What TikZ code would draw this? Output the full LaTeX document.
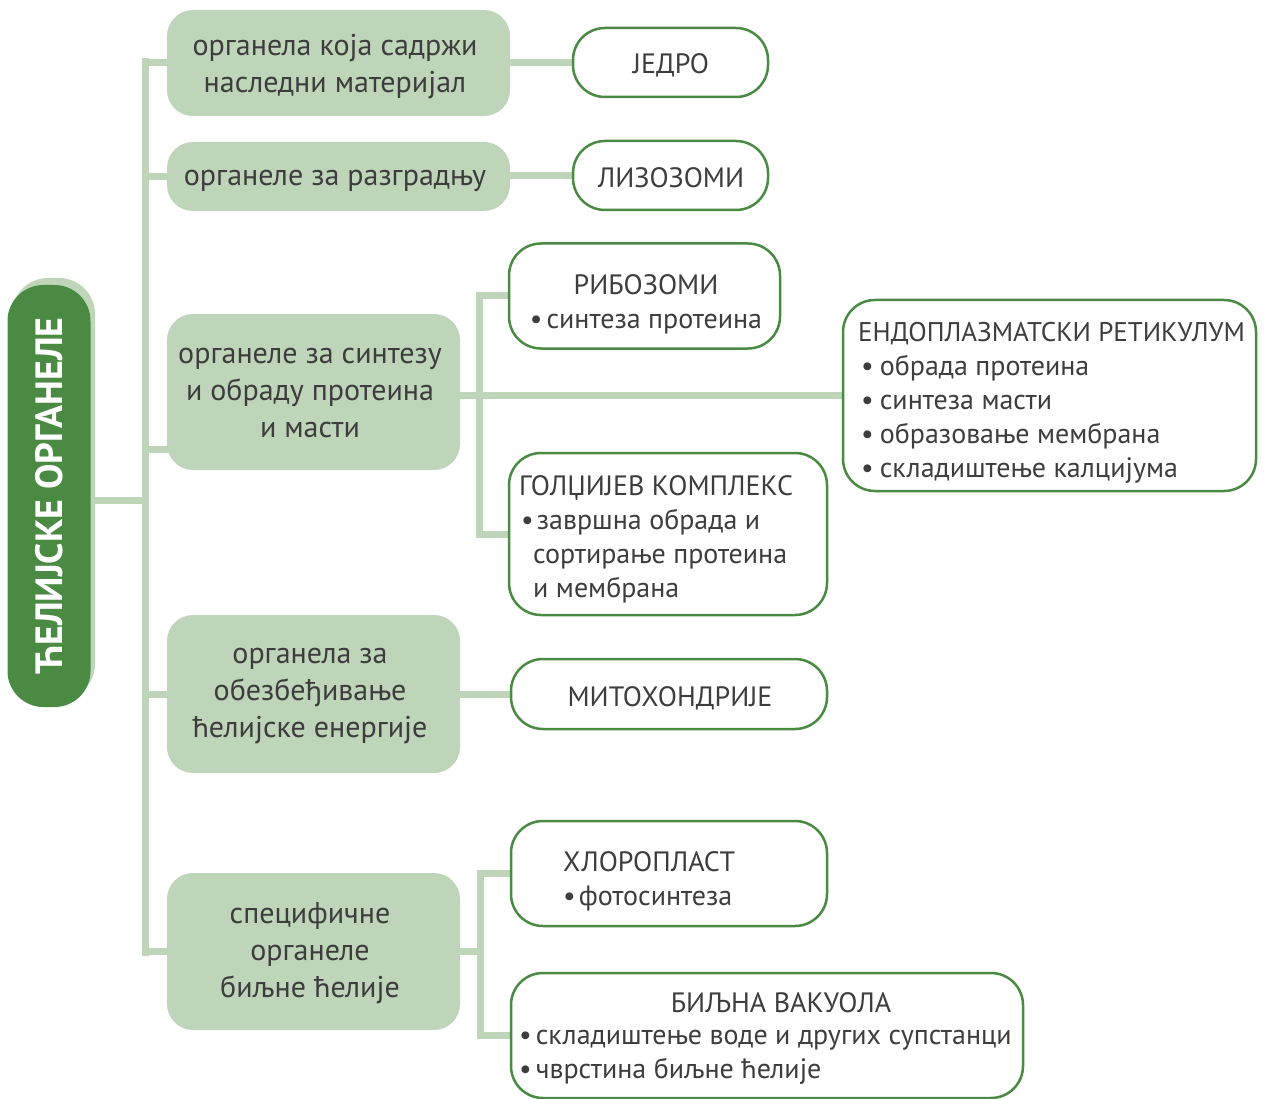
\documentclass[tikz,border=0pt]{standalone}
\usepackage{fontspec}
\setmainfont{PT Sans}
\usetikzlibrary{backgrounds}
\definecolor{dgreen}{HTML}{4A8A43}
\definecolor{lgreen}{HTML}{BED5B9}
\definecolor{txt}{HTML}{3D3D3D}
\newcommand{\bul}{\textbullet\hspace{6pt}}
\begin{document}
\begin{tikzpicture}[x=1pt,y=-1pt,
  cat/.style={fill=lgreen, rounded corners=26pt, inner sep=0pt},
  obox/.style={draw=dgreen, line width=2.5pt, fill=white, rounded corners=32pt, inner sep=0pt},
  conn/.style={draw=lgreen, line width=7pt},
  lbl/.style={text=txt, inner sep=0pt, align=center, font=\fontsize{30}{37}\selectfont},
  blbl/.style={text=txt, inner sep=0pt, align=left, font=\fontsize{28}{34}\selectfont},
]
\useasboundingbox (0,0) rectangle (1266,1099);
% main box with shadow
\fill[lgreen, rounded corners=36pt] (12,278) rectangle (95,700);
\node[fill=dgreen, rounded corners=36pt, minimum width=83pt, minimum height=422pt, inner sep=0pt] (main) at (49,496) {};
\node[rotate=90, text=white, font=\fontsize{38}{40}\selectfont\bfseries, inner sep=0pt] (mainlbl) at (main.center) {ЋЕЛИЈСКЕ ОРГАНЕЛЕ};
% trunk
\coordinate (tTop) at (145,58.5);
\coordinate (tBot) at (145,955.5);
\coordinate (tMid) at (145,500);
% category boxes
\node[cat, minimum width=343pt, minimum height=106pt] (c1) at (338.5,63) {};
\node[cat, minimum width=343pt, minimum height=69pt] (c2) at (338.5,176.5) {};
\node[cat, minimum width=293pt, minimum height=156pt] (c3) at (313.5,392) {};
\node[cat, minimum width=293pt, minimum height=158pt] (c4) at (313.5,694) {};
\node[cat, minimum width=293pt, minimum height=157pt] (c5) at (313.5,951.5) {};
\node[lbl] (t1) at (335,67) {органела која садржи\\наследни материјал};
\node[lbl] (t2) at (335,181) {органеле за разградњу};
\node[lbl] (t3) at (310,393) {органеле за синтезу\\и обраду протеина\\и масти};
\node[lbl] (t4) at (310,696) {органела за\\обезбеђивање\\ћелијске енергије};
\node[lbl] (t5) at (310,953) {специфичне\\органеле\\биљне ћелије};
% outlined boxes
\node[obox, minimum width=195pt, minimum height=69pt] (jedro) at (670.5,62.5) {};
\node[obox, minimum width=195pt, minimum height=69pt] (liz) at (670.5,175.5) {};
\node[obox, minimum width=271pt, minimum height=105pt] (ribo) at (644.5,296) {};
\node[obox, minimum width=413pt, minimum height=191pt] (er) at (1049.5,395.5) {};
\node[obox, minimum width=318pt, minimum height=162pt] (golgi) at (668,534) {};
\node[obox, minimum width=316pt, minimum height=70pt] (mito) at (669,694) {};
\node[obox, minimum width=316pt, minimum height=105pt] (chloro) at (669,873.5) {};
\node[obox, minimum width=512pt, minimum height=125pt] (vac) at (767,1035.5) {};
\node[blbl, align=center] (jedrot) at (671,65) {ЈЕДРО};
\node[blbl, align=center] (lizt) at (671,178) {ЛИЗОЗОМИ};
\node[blbl, align=center] (ribot) at (646,304) {РИБОЗОМИ\\\textbullet\hspace{4pt}синтеза протеина};
\node[blbl, anchor=west] (ert) at (858,403) {{\fontsize{27}{34}\selectfont ЕНДОПЛАЗМАТСКИ РЕТИКУЛУМ}\\
\hspace{3pt}\bul обрада протеина\\
\hspace{3pt}\bul синтеза масти\\
\hspace{3pt}\bul образовање мембрана\\
\hspace{3pt}\bul складиштење калцијума};
\node[blbl, anchor=west] (golgit) at (519,539) {ГОЛЏИЈЕВ КОМПЛЕКС\\
\hspace{2pt}\textbullet\hspace{3pt}завршна обрада и\\
\hspace{14pt}сортирање протеина\\
\hspace{14pt}и мембрана};
\node[blbl, align=center] (mitot) at (670,698) {МИТОХОНДРИЈЕ};
\node[blbl, anchor=west] (chlorot) at (563,881) {ХЛОРОПЛАСТ\\\textbullet\hspace{3pt}фотосинтеза};
\node[blbl, anchor=base] (vact) at (781,1012) {БИЉНА ВАКУОЛА};
\node[blbl, anchor=west] (vacb) at (519,1057) {\textbullet\hspace{4pt}складиштење воде и других супстанци\\
\textbullet\hspace{4pt}чврстина биљне ћелије};
% connectors
\begin{scope}[on background layer]
\draw[conn] (tTop) -- (tBot);
\draw[conn] (main.east |- tMid) -- (tMid);
\draw[conn] (tTop |- jedro.west) -- (jedro.west);
\draw[conn] (tTop |- c2.west) -- (liz.west);
\draw[conn] (145,449) -- (200,449);
\draw[conn] (tTop |- mito.west) -- (mito.west);
\draw[conn] (tTop |- c5.west) -- (c5.west);
\draw[conn] (c3.east |- er.west) -- (er.west);
\draw[conn] (ribo.west) -| (479.5,400) |- (golgi.west);
\draw[conn] (c5.east) -- (480,951.5);
\draw[conn] (chloro.west) -| (480,950) |- (vac.west);
\end{scope}
\end{tikzpicture}
\end{document}
